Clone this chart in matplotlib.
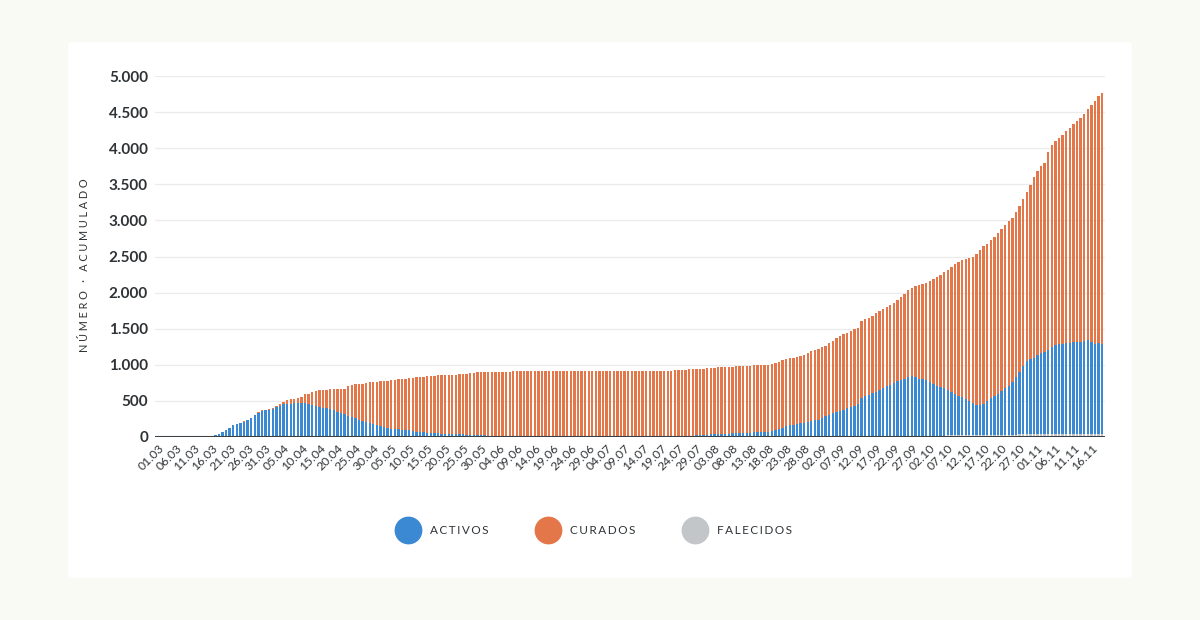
import numpy as np
import matplotlib

matplotlib.use("Agg")
import matplotlib.pyplot as plt
import pandas as pd
from matplotlib.lines import Line2D
from matplotlib.patches import FancyBboxPatch

# daily cumulative values, 01.03 -> 19.11 (one value per day)
activos = [
    0, 0, 0, 0, 0, 0, 0, 0, 0, 0,
    0, 0, 0, 0, 5, 15, 30, 46, 70, 100,
    129, 159, 174, 189, 209, 228, 260, 298, 333, 358,
    366, 374, 381, 406, 426, 449, 454, 456, 459, 464,
    462, 457, 452, 442, 422, 404, 395, 388, 380, 360,
    338, 318, 301, 283, 264, 246, 228, 210, 195, 180,
    166, 154, 144, 126, 111, 101, 96, 92, 88, 86,
    78, 71, 61, 56, 52, 48, 42, 38, 36, 34,
    31, 28, 25, 23, 22, 20, 18, 17, 15, 13,
    10, 7, 5, 3, 2, 2, 2, 2, 2, 2,
    2, 2, 2, 2, 2, 2, 2, 2, 2, 2,
    2, 2, 2, 2, 2, 2, 2, 2, 2, 2,
    2, 2, 2, 2, 2, 2, 2, 2, 2, 2,
    2, 2, 2, 2, 2, 2, 2, 2, 2, 2,
    2, 2, 2, 2, 2, 2, 2, 2, 2, 2,
    5, 8, 10, 14, 19, 21, 24, 26, 30, 31,
    34, 36, 38, 41, 44, 46, 47, 47, 48, 49,
    54, 64, 76, 96, 111, 131, 144, 149, 158, 171,
    184, 194, 204, 214, 226, 251, 269, 294, 314, 334,
    349, 364, 384, 404, 419, 439, 522, 554, 571, 589,
    610, 632, 655, 682, 702, 724, 752, 777, 792, 807,
    822, 812, 792, 782, 767, 747, 717, 682, 675, 662,
    628, 603, 573, 548, 528, 498, 478, 448, 423, 418,
    432, 472, 512, 537, 572, 612, 652, 682, 732, 802,
    862, 942, 1012, 1042, 1062, 1092, 1122, 1142, 1172, 1212,
    1232, 1242, 1247, 1252, 1252, 1262, 1268, 1272, 1282, 1291,
    1262, 1242, 1252, 1242,
]

curados = [
    0, 0, 0, 0, 0, 0, 0, 0, 0, 0,
    0, 0, 0, 0, 0, 0, 0, 0, 0, 0,
    0, 0, 0, 5, 5, 5, 8, 10, 10, 10,
    10, 12, 15, 20, 30, 35, 50, 58, 65, 73,
    90, 125, 140, 170, 205, 231, 245, 257, 270, 292,
    315, 338, 357, 405, 444, 472, 495, 518, 543, 563,
    580, 597, 612, 635, 657, 675, 685, 694, 703, 710,
    723, 735, 750, 760, 769, 778, 789, 798, 802, 807,
    814, 819, 824, 827, 829, 835, 842, 853, 860, 867,
    873, 878, 882, 886, 888, 889, 889, 890, 890, 891,
    891, 892, 893, 893, 893, 894, 894, 895, 895, 895,
    895, 896, 896, 896, 896, 897, 897, 897, 897, 897,
    897, 897, 898, 898, 898, 898, 891, 891, 892, 893,
    893, 894, 894, 895, 895, 896, 896, 897, 897, 898,
    898, 898, 899, 899, 908, 911, 914, 917, 919, 921,
    921, 921, 922, 922, 922, 923, 923, 924, 924, 925,
    925, 926, 926, 927, 927, 928, 928, 929, 929, 930,
    930, 930, 933, 933, 933, 933, 935, 935, 936, 938,
    940, 955, 970, 975, 978, 978, 980, 990, 1000, 1015,
    1030, 1040, 1047, 1050, 1055, 1060, 1062, 1065, 1068, 1070,
    1092, 1095, 1097, 1100, 1110, 1118, 1130, 1145, 1165, 1215,
    1230, 1260, 1295, 1318, 1345, 1400, 1455, 1515, 1552, 1600,
    1660, 1725, 1795, 1850, 1895, 1945, 1980, 2030, 2095, 2150,
    2180, 2180, 2190, 2205, 2230, 2240, 2250, 2275, 2280, 2280,
    2300, 2310, 2350, 2410, 2500, 2560, 2590, 2620, 2740, 2800,
    2820, 2850, 2885, 2940, 2980, 3020, 3054, 3100, 3150, 3201,
    3290, 3370, 3420, 3470,
]

falecidos = (
    [0] * 20 + [1] * 5 + [2] * 5 + [4] * 5 + [6] * 5 + [8] * 5 + [10] * 5
    + [12] * 10 + [14] * 20 + [15] * 70 + [16] * 50 + [18] * 20
    + [22] * 10 + [28] * 10 + [38] * 10 + [48] * 14
)

dates = pd.date_range("2020-03-01", periods=len(activos), freq="D")
tick_every = 5

C_ACT = "#3b89d3"
C_CUR = "#e4774a"
C_FAL = "#c3c6c9"
TXT = "#2f3336"
FONT = "Lato"


def spaced(s, gap="\u2009\u2009"):
    # letter-spaced caps like the original labels
    return gap.join(s)


fig = plt.figure(figsize=(12, 6.2), dpi=100, facecolor="#fafaf5")
fig.patches.append(
    FancyBboxPatch(
        (68 / 1200, 42 / 620), (1132 - 68) / 1200, (578 - 42) / 620,
        boxstyle="round,pad=0,rounding_size=0.006",
        transform=fig.transFigure, facecolor="white", edgecolor="none", zorder=-5,
    )
)

ax = fig.add_axes([155 / 1200, (620 - 437) / 620, 950 / 1200, 361 / 620])
ax.set_facecolor("none")

x = np.arange(len(activos))
fal = np.array(falecidos)
act = np.array(activos)
cur = np.array(curados)

w = 0.66
ax.bar(x, fal, width=w, color=C_FAL, linewidth=0, zorder=2)
ax.bar(x, act, width=w, bottom=fal, color=C_ACT, linewidth=0, zorder=2)
ax.bar(x, cur, width=w, bottom=fal + act, color=C_CUR, linewidth=0, zorder=2)

ax.set_xlim(-0.8, len(activos) - 0.2)
ax.set_ylim(0, 5000)
ax.axhline(0, color="#3b4045", linewidth=2.2, zorder=3)

ax.set_yticks(np.arange(0, 5001, 500))
ax.set_yticklabels(
    [f"{v:,}".replace(",", ".") for v in range(0, 5001, 500)],
    fontsize=11, fontweight="bold", color=TXT, family=FONT,
)
ax.yaxis.grid(True, color="#ebebeb", linewidth=0.9, zorder=0)
ax.set_axisbelow(True)

ticks = x[::tick_every]
ax.set_xticks(ticks)
ax.set_xticklabels(
    [d.strftime("%d.%m") for d in dates[::tick_every]],
    rotation=45, ha="right", rotation_mode="anchor",
    fontsize=8.8, color=TXT, family=FONT,
)
ax.tick_params(axis="both", length=0)
ax.tick_params(axis="y", pad=5)
ax.tick_params(axis="x", pad=4)
for s in ax.spines.values():
    s.set_visible(False)

fig.text(
    84 / 1200, 1 - 265 / 620,
    spaced("NÚMERO") + "   ·   " + spaced("ACUMULADO"),
    rotation=90, ha="center", va="center", fontsize=7.8, color=TXT,
    family=[FONT, "DejaVu Sans"],
)

handles = [
    Line2D([], [], marker="o", linestyle="none", markersize=19, color=c)
    for c in (C_ACT, C_CUR, C_FAL)
]
leg = fig.legend(
    handles,
    [spaced("ACTIVOS", "\u2009"), spaced("CURADOS", "\u2009"),
     spaced("FALECIDOS", "\u2009")],
    loc="center", bbox_to_anchor=(0.495, 1 - 531 / 620), ncol=3,
    frameon=False, handletextpad=0.9, columnspacing=4.0,
    prop={"family": [FONT, "DejaVu Sans"], "size": 8.5},
)
for t in leg.get_texts():
    t.set_color(TXT)

fig.savefig("out.png", dpi=100, facecolor=fig.get_facecolor())
plt.close(fig)
